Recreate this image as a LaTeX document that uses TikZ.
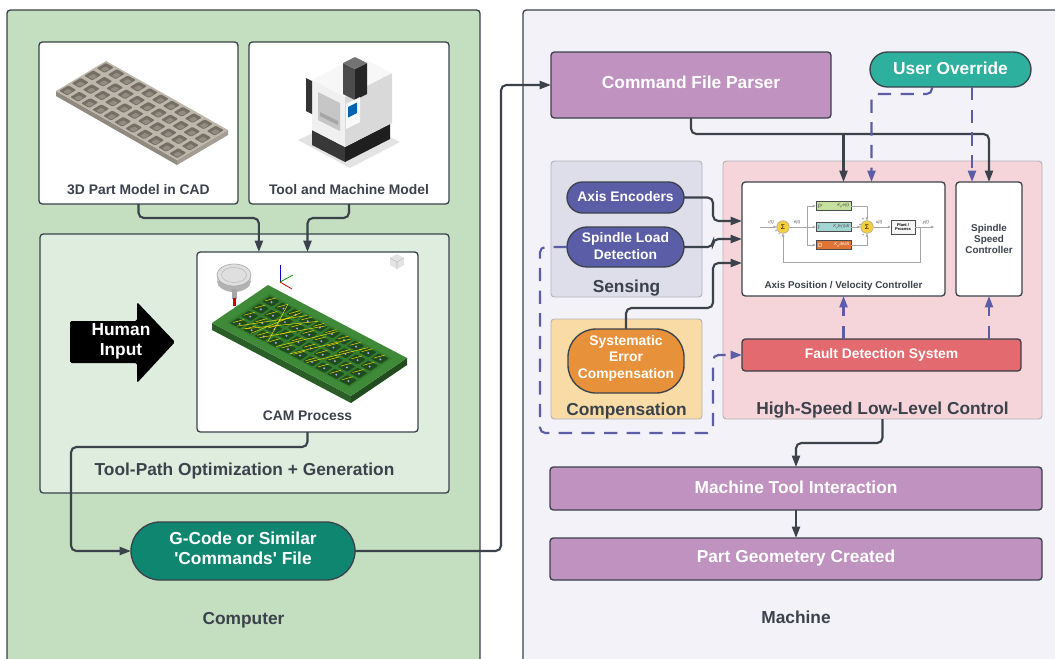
\documentclass[tikz,border=0pt]{standalone}
\usepackage{fontspec}
\setmainfont{Liberation Sans}[Ligatures=TeXOff]
\usetikzlibrary{arrows.meta,calc,shapes.misc}

\definecolor{linec}{HTML}{3B424C}
\definecolor{textc}{HTML}{3B424C}
\definecolor{compbg}{HTML}{C3DFC0}
\definecolor{tpbg}{HTML}{DFEDDE}
\definecolor{machbg}{HTML}{F3F2F8}
\definecolor{sensbg}{HTML}{DEDDEA}
\definecolor{compnbg}{HTML}{F9DBA6}
\definecolor{hsbg}{HTML}{F5D5DA}
\definecolor{mauve}{HTML}{BF92BF}
\definecolor{tealA}{HTML}{2DB09D}
\definecolor{tealB}{HTML}{0F8670}
\definecolor{indig}{HTML}{5B5EA6}
\definecolor{orng}{HTML}{E8913B}
\definecolor{fault}{HTML}{E36A6E}
\definecolor{dashc}{HTML}{5B5EA6}
\definecolor{platetop}{HTML}{BDB6AB}
\definecolor{plateside}{HTML}{8F897F}
\definecolor{platefront}{HTML}{A39D93}
\definecolor{holec}{HTML}{756E64}
\definecolor{camtop}{HTML}{3E8A38}
\definecolor{camin}{HTML}{347C2F}
\definecolor{camside}{HTML}{2A5E26}
\definecolor{camdark}{HTML}{1F4C1C}
\definecolor{sumyel}{HTML}{F5CE3E}
\definecolor{pidg}{HTML}{C5DF9E}
\definecolor{pidt}{HTML}{A3D5D3}
\definecolor{pido}{HTML}{E07434}

\newcommand\fBig{\fontsize{13}{15}\selectfont\bfseries}
\newcommand\fMid{\fontsize{10.4}{12.5}\selectfont\bfseries}
\newcommand\fSmall{\fontsize{7.4}{8.3}\selectfont\bfseries}
\newcommand\fTiny{\fontsize{3.2}{3.6}\selectfont}
% box node from its two corners (in px units): style, name, x1, y1, x2, y2, text
\newcommand\rectnode[7]{\node[#1, minimum width={(#5-#3)*0.75pt}, minimum height={(#6-#4)*0.75pt}] (#2) at ({(#3+#5)/2},{(#4+#6)/2}) {#7};}

\tikzset{
  frame/.style={draw=linec, line width=1pt, rounded corners=2.5pt, inner sep=0pt, outer sep=0pt},
  soft/.style={draw=linec!40, line width=0.7pt, rounded corners=2.5pt, inner sep=0pt, outer sep=0pt},
  pill/.style={rounded rectangle, draw=linec, line width=1pt, inner sep=0pt, outer sep=0pt, text=white, align=center},
  lbl/.style={inner sep=0pt, text=textc, font=\fBig},
  conn/.style={draw=linec, line width=1.6pt, rounded corners=4pt, -{Triangle[length=8.5pt,width=6pt]}},
  dconn/.style={draw=dashc, line width=1.6pt, dash pattern=on 10pt off 7pt, rounded corners=4pt, -{Triangle[length=8.5pt,width=6pt]}},
  pidl/.style={draw=gray!70, line width=0.45pt, -{Triangle[length=2.2pt,width=2pt]}},
  pidsum/.style={circle, draw=gray!70, fill=sumyel, line width=0.4pt, minimum size=9.5pt, inner sep=0pt},
  pidbox/.style={draw=gray!60!black, line width=0.4pt, inner sep=0pt, minimum width=26.25pt, minimum height=6.8pt},
  pidtxt/.style={inner sep=0pt, font=\fTiny, text=black!70},
}

\begin{document}
\begin{tikzpicture}[x=0.75pt, y=-0.75pt]
\useasboundingbox (0,0) rectangle (1055,658);

% ---------- the two panels ----------
\begin{scope}
  \clip (0,0) rectangle (1055,658);
  \path[draw=linec, line width=1pt, rounded corners=2.5pt, fill=compbg] (7,10) rectangle (480,690);
  \path[draw=linec, line width=1pt, rounded corners=2.5pt, fill=machbg] (523,10) rectangle (1090,690);
\end{scope}

% ---------- Computer side ----------
\rectnode{frame, fill=tpbg}{tpo}{40}{234}{449}{493}{}
\node[lbl, anchor=base] (tpolbl) at (244.5,475) {Tool-Path Optimization + Generation};

\rectnode{frame, fill=white}{cad}{39}{42}{238}{204}{}
\rectnode{frame, fill=white}{tmm}{249}{42}{449}{204}{}
\rectnode{frame, fill=white}{cam}{197}{252}{418}{432}{}

% part model: perforated plate
\fill[plateside] (56,91) -- (177,160) -- (177,165) -- (56,96) -- cycle;
\fill[platefront] (177,160) -- (228,130) -- (228,135) -- (177,165) -- cycle;
\fill[platetop] (56,91) -- (106,61) -- (228,130) -- (177,160) -- cycle;
\foreach \i in {0,...,3}{
  \foreach \j in {0,...,10}{
    \pgfmathsetmacro\cx{56+(\i+0.5)*12.5+(\j+0.5)*11}
    \pgfmathsetmacro\cy{91-(\i+0.5)*7.5+(\j+0.5)*6.27}
    \fill[holec, shift={(\cx,\cy)}, rounded corners=0.8pt]
      (-8.46,0.44) -- (0.54,-4.96) -- (8.46,-0.44) -- (-0.54,4.96) -- cycle;
    \fill[holec!60!platetop, shift={(\cx,\cy+1.2)}, rounded corners=0.6pt]
      (-4.6,0.2) -- (0.3,-2.7) -- (4.6,-0.2) -- (-0.3,2.7) -- cycle;
  }
}

% machine model
\fill[gray!22] (298,140) -- (350,168) -- (400,142) -- (350,116) -- cycle;
\fill[black!78] (312,130) -- (345,147) -- (345,162) -- (312,145) -- cycle;
\fill[black!88] (345,147) -- (390,124) -- (390,139) -- (345,162) -- cycle;
\fill[gray!12] (312,80) -- (345,97) -- (345,147) -- (312,130) -- cycle;
\fill[gray!30] (345,97) -- (392,73) -- (392,123) -- (345,147) -- cycle;
\fill[gray!6] (312,80) -- (359,56) -- (392,73) -- (345,97) -- cycle;
\fill[gray!45] (318,92) -- (340,103) -- (340,131) -- (318,120) -- cycle;
\fill[gray!70] (320,112) -- (338,121) -- (338,125) -- (320,116) -- cycle;
\fill[black!80] (306,78) -- (312,81) -- (312,114) -- (306,111) -- cycle;
\fill[black!70] (343,63) -- (355,69) -- (355,100) -- (343,94) -- cycle;
\fill[black!85] (355,69) -- (367,63) -- (367,94) -- (355,100) -- cycle;
\fill[black!55] (343,63) -- (355,57) -- (367,63) -- (355,69) -- cycle;
\fill[gray!5] (346,104) -- (360,97) -- (360,122) -- (346,129) -- cycle;
\fill[blue!45!cyan!70!black] (348,107) -- (357,102.5) -- (357,113) -- (348,117.5) -- cycle;

% CAM view: green stock with pockets and tool paths
\fill[camside] (212,323) -- (351,396) -- (351,403) -- (212,330) -- cycle;
\fill[camside!80!black] (351,396) -- (407,358) -- (407,365) -- (351,403) -- cycle;
\fill[camtop] (212,323) -- (268,285) -- (407,358) -- (351,396) -- cycle;
\fill[camin] (227.1,322.8) -- (269.6,293.9) -- (391.9,358.2) -- (349.4,387.1) -- cycle;
\foreach \i in {0,...,3}{
  \foreach \j in {0,...,9}{
    \pgfmathsetmacro\a{0.21+0.19*\i}
    \pgfmathsetmacro\b{0.11+0.087*\j}
    \pgfmathsetmacro\cx{212+\a*56+\b*139}
    \pgfmathsetmacro\cy{323-\a*38+\b*73}
    \fill[camdark, shift={(\cx,\cy)}, rounded corners=0.6pt]
      (-8.79,0.1) -- (-0.95,-5.22) -- (8.79,-0.1) -- (0.95,5.22) -- cycle;
    \fill[blue!35!white, shift={(\cx,\cy)}] (0.5,0.8) circle (1.1);
    \draw[yellow!85!orange, line width=0.35pt, shift={(\cx,\cy)}] (-6,-0.5) -- (5,-3.5);
  }
}
\foreach \b/\c in {0.12/0.34, 0.16/0.42, 0.22/0.30, 0.28/0.48, 0.34/0.20, 0.40/0.56, 0.50/0.66, 0.62/0.78}{
  \draw[yellow!85!orange, line width=0.35pt]
    ({212+0.15*56+\b*139},{323-0.15*38+\b*73}) -- ({212+0.85*56+\c*139},{323-0.85*38+\c*73});
}
\fill[gray!60] (234,281) ellipse (17 and 11);
\fill[gray!35] (217,275) rectangle (251,281);
\fill[gray!25] (234,275) ellipse (17 and 11);
\draw[gray!65, line width=0.5pt] (234,275) ellipse (17 and 11);
\draw[gray!55, line width=0.4pt] (234,275) ellipse (12.5 and 7.5);
\fill[gray!70] (232,289) rectangle (237,299);
\fill[red!80!black] (233,298) rectangle (236,306);
\draw[blue!80!black, line width=0.6pt] (280,282) -- (280,265);
\draw[green!60!black, line width=0.6pt] (280,282) -- (293,275);
\draw[red!80!black, line width=0.6pt] (280,282) -- (292,289);
\fill[gray!22] (390,258) -- (397,254) -- (404,258) -- (404,265) -- (397,269) -- (390,265) -- cycle;
\draw[gray!50, line width=0.4pt] (390,258) -- (397,262) -- (404,258) (397,262) -- (397,269);

\node[lbl, font=\fMid, anchor=base] (cadlbl) at (138.5,194) {3D Part Model in CAD};
\node[lbl, font=\fMid, anchor=base] (tmmlbl) at (349,194) {Tool and Machine Model};
\node[lbl, font=\fMid, anchor=base] (camlbl) at (307.5,420) {CAM Process};

% human input arrow
\fill[black, rounded corners=1.2pt] (70,321) -- (137,321) -- (137,302) -- (175,342) -- (137,383) -- (137,363) -- (70,363) -- cycle;
\node[font=\fBig, text=white, align=center, inner sep=0pt] (human) at (121,341) {Human\\Input};

\node[pill, fill=tealB, font=\fBig, text depth=4.5pt, minimum width={224*0.75pt}, minimum height={58*0.75pt}] (gcode) at (243,551) {G-Code or Similar\\'Commands' File};
\node[lbl, anchor=base] (complbl) at (243.5,624.5) {Computer};

% ---------- Machine side ----------
\rectnode{frame, fill=mauve, text=white, font=\fBig, text depth=3.5pt}{cfp}{551}{52}{831}{118}{Command File Parser}
\node[pill, fill=tealA, font=\fBig, text depth=1.5pt, minimum width={161*0.75pt}, minimum height={35*0.75pt}] (uo) at (950.5,69.5) {User Override};

\rectnode{soft, fill=sensbg}{sens}{551}{161}{702}{297}{}
\node[lbl, anchor=base] (senslbl) at (626.5,292.5) {Sensing};
\node[pill, fill=indig, font=\fMid, text depth=2pt, minimum width={117*0.75pt}, minimum height={31*0.75pt}] (ae) at (625.5,197.5) {Axis Encoders};
\node[pill, fill=indig, font=\fMid, text depth=1.5pt, minimum width={117*0.75pt}, minimum height={40*0.75pt}] (sld) at (625.5,247) {Spindle Load\\Detection};

\rectnode{soft, fill=compnbg}{comp}{551}{319}{702}{419}{}
\node[lbl, anchor=base] (complbl2) at (626.5,415) {Compensation};
\rectnode{frame, fill=orng, rounded corners=21pt, text=white, font=\fMid, align=center, text depth=6.5pt}{sec}{568}{329}{684}{393}{Systematic\\Error\\Compensation}

\rectnode{soft, fill=hsbg}{hs}{723}{161}{1042}{419}{}
\node[lbl, anchor=base] (hslbl) at (882.5,414) {High-Speed Low-Level Control};
\rectnode{frame, fill=white}{apv}{742}{182}{945}{296}{}
\node[lbl, font=\fSmall, anchor=base] (apvlbl) at (843.5,288) {Axis Position / Velocity Controller};
\rectnode{frame, fill=white, font=\fSmall, text=textc, align=center}{ssc}{956}{182}{1022}{296}{Spindle\\Speed\\Controller}
\rectnode{frame, fill=fault, font=\fMid, text=white, text depth=2.5pt}{fds}{742}{339}{1021}{371}{Fault Detection System}

\rectnode{frame, fill=mauve, font=\fBig, text=white, text depth=2pt}{mti}{550}{467}{1042}{510}{Machine Tool Interaction}
\rectnode{frame, fill=mauve, font=\fBig, text=white, text depth=4.5pt}{pgc}{550}{538}{1042}{580}{Part Geometery Created}
\node[lbl, anchor=base] (machlbl) at (796,623) {Machine};

% PID loop inside the axis controller
\node[pidsum] (sum1) at (783,227) {\fontsize{5}{5}\selectfont Σ};
\node[pidsum] (sum2) at (867,227) {\fontsize{5}{5}\selectfont Σ};
\node[pidbox, fill=pidg] (pP) at (833.5,206) {};
\node[pidbox, fill=pidt] (pI) at (833.5,227) {};
\node[pidbox, fill=pido] (pD) at (833.5,245) {};
\node[pidtxt, anchor=west, font=\fontsize{4.5}{5}\selectfont] (pPa) at ($(pP.west)+(2,0)$) {P};
\node[pidtxt, anchor=west, font=\fontsize{4.5}{5}\selectfont] (pIa) at ($(pI.west)+(2,0)$) {I};
\node[pidtxt, anchor=west, font=\fontsize{4.5}{5}\selectfont, text=white] (pDa) at ($(pD.west)+(2,0)$) {D};
\node[pidtxt, anchor=east] (pPb) at ($(pP.east)+(-2,0)$) {\itshape K\textsubscript{p}e(t)};
\node[pidtxt, anchor=east] (pIb) at ($(pI.east)+(-1.5,0)$) {\itshape K\textsubscript{i}∫e(τ)dτ};
\node[pidtxt, anchor=east, text=white] (pDb) at ($(pD.east)+(-2,0)$) {\itshape K\textsubscript{d}de/dt};
\node[pidbox, fill=gray!8, minimum width=18pt, minimum height=10.5pt, align=center, font=\fontsize{3}{3.3}\selectfont\bfseries] (plant) at (903,227) {Plant /\\Process};
\coordinate (pin) at (760,227);
\coordinate (pbr) at (807,227);
\coordinate (pfb) at (920,227);
\coordinate (pout) at (934,227);
\draw[pidl] (pin) -- (sum1);
\draw[pidl] (sum1) -- (pI);
\draw[pidl] (pbr) |- (pP);
\draw[pidl] (pbr) |- (pD);
\draw[pidl] (pP) -| (sum2);
\draw[pidl] (pI) -- (sum2);
\draw[pidl] (pD) -| (sum2);
\draw[pidl] (sum2) -- (plant);
\draw[pidl] (plant) -- (pout);
\draw[pidl] (pfb) -- ++(0,35) -| (sum1);
\node[pidtxt] (lr) at (771,222) {\itshape r(t)};
\node[pidtxt] (le) at (797,222) {\itshape e(t)};
\node[pidtxt] (lu) at (879,222) {\itshape u(t)};
\node[pidtxt] (ly) at (926,222) {\itshape y(t)};
\node[pidtxt] (s1p) at (776,231) {+};
\node[pidtxt] (s1m) at (779,235) {−};
\node[pidtxt] (s2a) at (863,219) {+};
\node[pidtxt] (s2b) at (860,225) {+};
\node[pidtxt] (s2c) at (863,235) {+};

% ---------- connectors ----------
\draw[conn] (cad.south) -- ++(0,14) -| ($(cam.north west)!0.28!(cam.north east)$);
\draw[conn] (tmm.south) -- ++(0,14) -| (cam.north);
\draw[conn] (cam.south) -- ++(0,15) -| ($(gcode.west)+(-60,0)$) -- (gcode.west);
\draw[conn] (gcode.east) -| ($(cfp.west)+(-50,0)$) -- (cfp.west);

\coordinate (bus) at (843.5,134);
\draw[conn] (cfp.south) |- (bus) -| (ssc.north);
\draw[conn] (bus) -- (apv.north);
\coordinate (uo1) at ($(uo.south)+(-18.5,0)$);
\draw[dconn] (uo1) -- ++(0,7) -| ($(apv.north)+(28,0)$);
\coordinate (s1) at ($(ssc.north)+(-17,0)$);
\draw[dconn] (s1 |- uo.south) -- (s1);

\draw[conn] (ae.east) -- ++(29,0) |- ($(apv.west)+(0,-18)$);
\draw[conn] (sld.east) -- ++(29,0) |- (apv.west);
\draw[conn] (sec.north) -- ++(0,-21) -| ($(apv.west)+(-29,24)$) -- ($(apv.west)+(0,24)$);
\draw[dconn] (sld.west) -- ++(-27,0) |- ($(fds.west)+(-29,78)$) |- (fds.west);
\draw[dconn] (fds.north -| apv.south) -- (apv.south);
\draw[dconn] (fds.north -| ssc.south) -- (ssc.south);

\draw[conn] (hs.south) -- ++(0,24) -| (mti.north);
\draw[conn] (mti.south) -- (pgc.north);
\end{tikzpicture}
\end{document}
